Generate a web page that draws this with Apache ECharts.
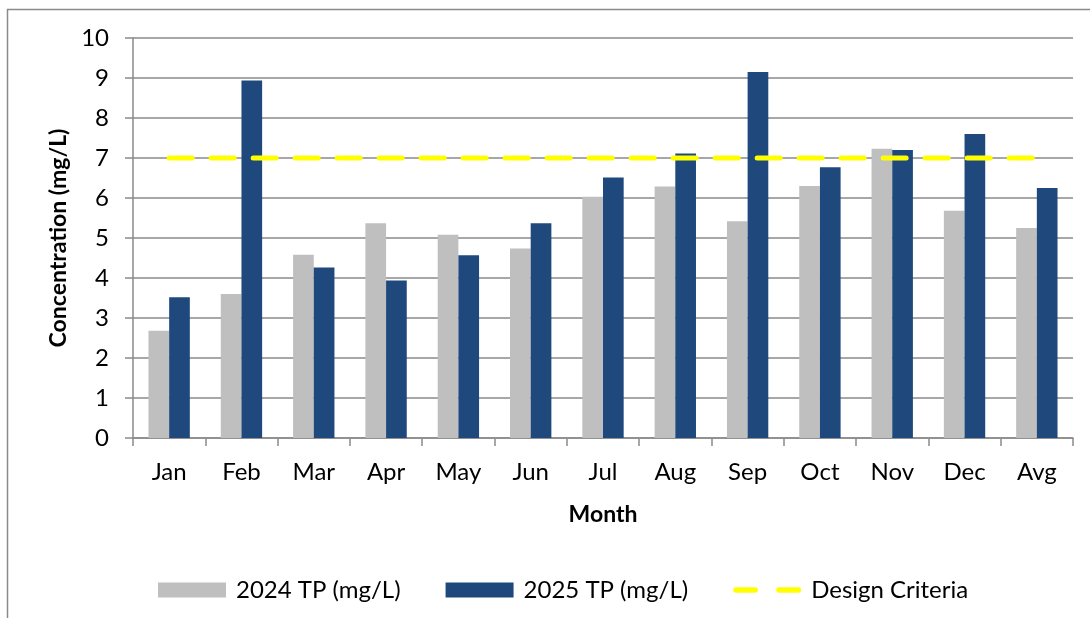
<!DOCTYPE html>
<html>
<head>
<meta charset="utf-8">
<script src="https://cdn.jsdelivr.net/npm/echarts@6/dist/echarts.min.js"></script>
<style>
  html, body { margin: 0; padding: 0; background: #fff; }
  #main { width: 1090px; height: 618px; }
</style>
</head>
<body>
<div id="main"></div>
<script>
// months + average column
var months = ['Jan', 'Feb', 'Mar', 'Apr', 'May', 'Jun', 'Jul', 'Aug', 'Sep', 'Oct', 'Nov', 'Dec', 'Avg'];
var tp2024 = [2.68, 3.6, 4.58, 5.37, 5.08, 4.74, 6.03, 6.29, 5.42, 6.3, 7.23, 5.68, 5.25];
var tp2025 = [3.52, 8.94, 4.26, 3.94, 4.57, 5.37, 6.51, 7.11, 9.15, 6.77, 7.2, 7.6, 6.25];
var designCriteria = [7, 7, 7, 7, 7, 7, 7, 7, 7, 7, 7, 7, 7];
var yTicks = [0, 10, 1]; // min, max, interval

var font = 'Lato, "Liberation Sans", sans-serif';
var gridGray = '#8a8a8a';
// two rounded dashes for the legend icon of the dashed line
var dashIcon = 'path://M2.5,0h18a2.5,2.5 0 0 1 0,5h-18a2.5,2.5 0 0 1 0,-5z M42.5,0h18a2.5,2.5 0 0 1 0,5h-18a2.5,2.5 0 0 1 0,-5z';

var chart = echarts.init(document.getElementById('main'), null, { renderer: 'canvas' });

var option = {
  animation: false,
  textStyle: { fontFamily: font, color: '#000' },
  graphic: [{
    type: 'rect',
    shape: { x: 7.5, y: 9.5, width: 1200, height: 800 },
    style: { fill: 'none', stroke: gridGray, lineWidth: 1.5 },
    silent: true,
    z: -1
  }],
  grid: {
    left: 133,
    right: 17,
    top: 38,
    bottom: 180
  },
  legend: {
    left: 158,
    top: 578,
    padding: 0,
    itemWidth: 68,
    itemHeight: 15,
    itemGap: 45,
    symbolKeepAspect: true,
    textStyle: { fontFamily: font, fontSize: 24, color: '#000', padding: [0, 0, 0, 5] },
    data: [
      { name: '2024 TP (mg/L)', icon: 'rect' },
      { name: '2025 TP (mg/L)', icon: 'rect' },
      { name: 'Design Criteria', icon: dashIcon }
    ]
  },
  xAxis: {
    type: 'category',
    data: months,
    name: 'Month',
    nameLocation: 'middle',
    nameGap: 65,
    nameTextStyle: { fontFamily: font, fontSize: 23, fontWeight: 'bold', color: '#000' },
    axisLine: { lineStyle: { color: gridGray, width: 1.5 } },
    axisTick: { show: true, length: 8, lineStyle: { color: gridGray, width: 1.5 } },
    axisLabel: { fontFamily: font, fontSize: 24, color: '#000', margin: 22 }
  },
  yAxis: {
    type: 'value',
    min: yTicks[0],
    max: yTicks[1],
    interval: yTicks[2],
    name: 'Concentration (mg/L)',
    nameLocation: 'middle',
    nameGap: 62,
    nameTextStyle: { fontFamily: font, fontSize: 23, fontWeight: 'bold', color: '#000' },
    axisLine: { show: true, lineStyle: { color: gridGray, width: 1.5 } },
    axisTick: { show: true, length: 8, lineStyle: { color: gridGray, width: 1.5 } },
    splitLine: { lineStyle: { color: gridGray, width: 1.5 } },
    axisLabel: { fontFamily: font, fontSize: 24, color: '#000', margin: 24 }
  },
  series: [
    {
      name: '2024 TP (mg/L)',
      type: 'bar',
      data: tp2024,
      barWidth: '28.6%',
      barGap: '0%',
      itemStyle: { color: '#bfbfbf' }
    },
    {
      name: '2025 TP (mg/L)',
      type: 'bar',
      data: tp2025,
      barWidth: '28.6%',
      itemStyle: { color: '#1f497d' }
    },
    {
      name: 'Design Criteria',
      type: 'line',
      data: designCriteria,
      symbol: 'none',
      z: 5,
      lineStyle: { color: '#ffff00', width: 5, type: [23, 19], cap: 'round' },
      itemStyle: { color: '#ffff00' }
    }
  ]
};

chart.setOption(option);
</script>
</body>
</html>
